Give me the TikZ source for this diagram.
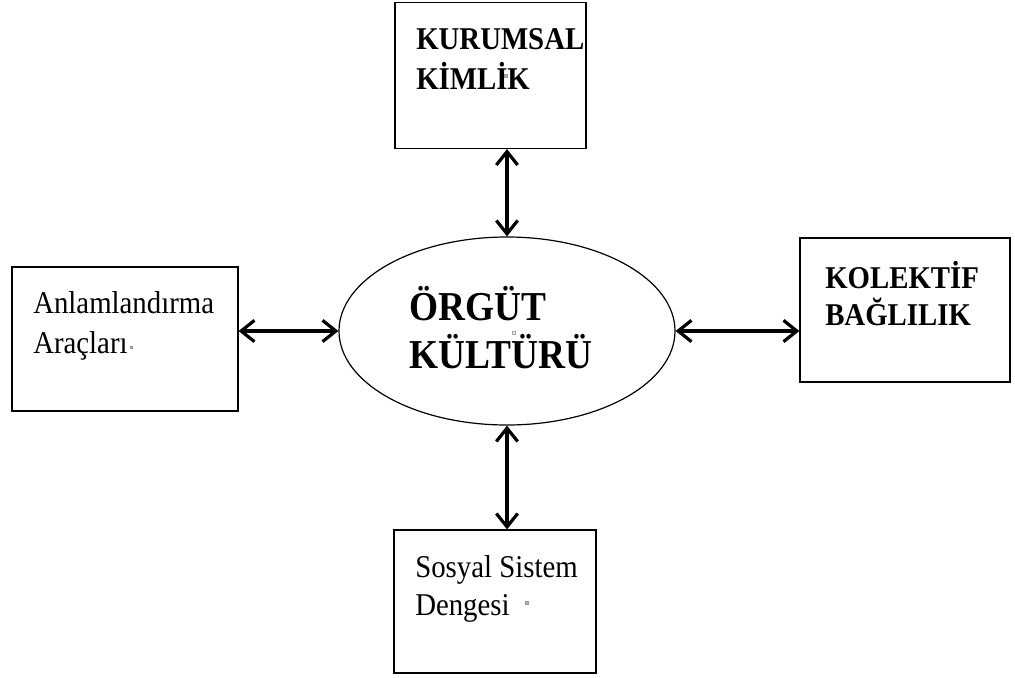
\documentclass[tikz,border=0pt]{standalone}
\usepackage{graphicx}
\usepackage{fontspec}
\setmainfont{Liberation Serif}
\usetikzlibrary{arrows.meta,shapes.geometric}
% slightly tall lettering
\newcommand{\tall}[1]{\scalebox{1}[1.1]{#1}}
\tikzset{
  barb/.tip={Straight Barb[length=10pt,width=16pt,line width=2.4pt]},
  twoway/.style={draw=black,line width=3pt,barb-barb}
}
\begin{document}
\begin{tikzpicture}[x=0.75pt,y=-0.75pt,
  box/.style={draw=black,line width=0.9pt,rectangle,inner sep=0pt},
  boxtxt/.style={anchor=base west,inner sep=0pt,font=\fontsize{21.6}{26}\selectfont},
  boldtxt/.style={boxtxt,font=\fontsize{21.6}{26}\selectfont\bfseries},
  bigtxt/.style={anchor=base west,inner sep=0pt,font=\fontsize{28}{32}\selectfont\bfseries},
  speck/.style={fill=gray!60,draw=gray!80,line width=0.2pt}]
\useasboundingbox (0,0) rectangle (1015,678);

% central ellipse
\node[draw=black,line width=0.9pt,ellipse,minimum width=252pt,minimum height=141pt,inner sep=0pt] (ell) at (507,331) {};
\node[bigtxt] (e1) at (409,320) {\tall{ÖRGÜT}};
\node[bigtxt] (e2) at (409,368) {\tall{KÜLTÜRÜ}};

% surrounding boxes
\node[box,minimum width=143.25pt,minimum height=109.5pt] (top) at (490.5,75.5) {};
\node[box,minimum width=169.5pt,minimum height=108pt] (lft) at (125,339) {};
\node[box,minimum width=157.5pt,minimum height=108pt] (rgt) at (905,310) {};
\node[box,minimum width=151.5pt,minimum height=107.25pt] (bot) at (495,601.5) {};

% box labels
\node[boldtxt] (t1) at (416,50) {\tall{KURUMSAL}};
\node[boldtxt] (t2) at (416,89) {\tall{KİMLİK}};
\node[boxtxt] (l1) at (33,313) {\tall{Anlamlandırma}};
\node[boxtxt] (l2) at (33,353) {\tall{Araçları}};
\node[boldtxt] (r1) at (825,288) {\tall{KOLEKTİF}};
\node[boldtxt] (r2) at (825,325) {\tall{BAĞLILIK}};
\node[boxtxt] (b1) at (415,577) {\tall{Sosyal Sistem}};
\node[boxtxt] (b2) at (415,615) {\tall{Dengesi}};

% small specks
\fill[speck] (504,74) rectangle (507,77);
\fill[speck] (130,346) rectangle (132,348);
\fill[speck] (525,601) rectangle (528,604);
\draw[gray!70,line width=0.4pt,fill=gray!15] (512,331) rectangle (515,334);

% two-way connectors
\draw[twoway] (ell.north |- top.south) -- (ell.north);
\draw[twoway] (lft.east |- ell.west) -- (ell.west);
\draw[twoway] (ell.east) -- (ell.east -| rgt.west);
\draw[twoway] (ell.south) -- (ell.south |- bot.north);
\end{tikzpicture}
\end{document}
